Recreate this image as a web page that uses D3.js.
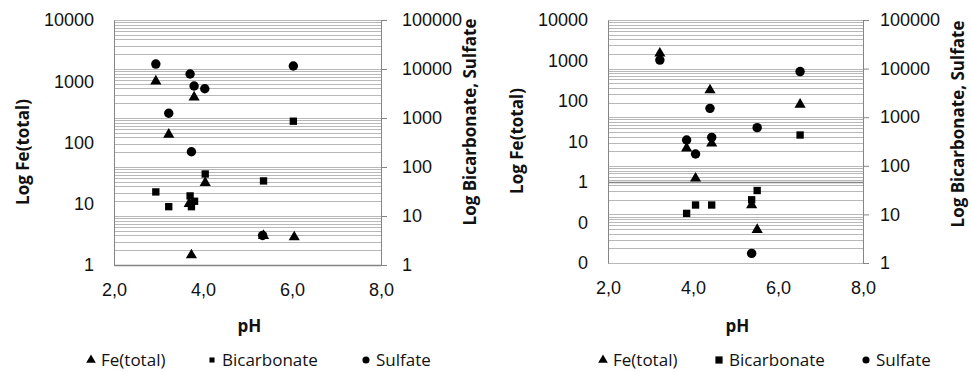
<!DOCTYPE html>
<html>
<head>
<meta charset="utf-8">
<script src="https://cdn.jsdelivr.net/npm/d3@7/dist/d3.min.js"></script>
<style>
  html, body { margin: 0; padding: 0; background: #fff; }
  svg { display: block; font-family: "Open Sans", "Liberation Sans", sans-serif; }
</style>
</head>
<body>
<svg id="chart" width="971" height="372"></svg>
<script>
// ---- Data: panel A ----
const feA_pH   = [2.94, 3.80, 3.23, 4.05, 3.69, 5.36, 6.05, 3.74];
const feA_val  = [1000, 550, 135, 22, 10, 3.0, 2.85, 1.45];
const bicA_pH  = [2.94, 3.23, 3.71, 3.81, 3.74, 4.05, 5.36, 6.03];
const bicA_val = [31, 15.5, 25.7, 20, 15.5, 72, 52, 860];
const sulA_pH  = [2.94, 3.71, 3.80, 4.04, 3.23, 3.74, 6.03, 5.34];
const sulA_val = [12600, 7900, 4500, 3950, 1250, 205, 11500, 4];

// ---- Data: panel B ----
const feB_pH   = [3.22, 4.40, 3.85, 4.44, 4.06, 6.52, 5.38, 5.51];
const feB_val  = [1500, 186, 6.8, 9, 1.23, 82, 0.27, 0.066];
const bicB_pH  = [3.85, 4.06, 4.44, 6.52, 5.51, 5.38];
const bicB_val = [10.5, 15.6, 15.6, 430, 31, 20];
const sulB_pH  = [3.22, 4.40, 3.85, 4.44, 4.06, 6.52, 5.51, 5.38];
const sulB_val = [15000, 1520, 340, 385, 175, 8700, 610, 1.58];

// ---- Axis ticks ----
const xTicks       = [2, 4, 6, 8];
const xTickLabels  = ["2,0", "4,0", "6,0", "8,0"];
const leftTicksA   = [1, 10, 100, 1000, 10000];
const leftLabelsA  = ["1", "10", "100", "1000", "10000"];
const leftTicksB   = [0.01, 0.1, 1, 10, 100, 1000, 10000];
const leftLabelsB  = ["0", "0", "1", "10", "100", "1000", "10000"];
const rightTicks   = [1, 10, 100, 1000, 10000, 100000];
const rightLabels  = ["1", "10", "100", "1000", "10000", "100000"];

const seriesNames = ["Fe(total)", "Bicarbonate", "Sulfate"];
const xTitle = "pH";
const leftTitle = "Log Fe(total)";
const rightTitle = "Log Bicarbonate, Sulfate";

const svg = d3.select("#chart");
const gridColor = "#b8b8b8";
const axisColor = "#858585";
const textColor = "#111";

const symbols = [d3.symbolTriangle, d3.symbolSquare, d3.symbolCircle];
const symSizes = [54, 54, 70];

function zip(xs, ys) { return xs.map((x, i) => ({ x, y: ys[i] })); }

function drawPanel(cfg) {
  const { x0, x1, top, bottom } = cfg;
  const x = d3.scaleLinear().domain([2, 8]).range([x0, x1]);
  const yL = d3.scaleLog().domain(cfg.leftDomain).range([bottom, top]);
  const yR = d3.scaleLog().domain([1, 100000]).range([bottom, top]);
  const g = svg.append("g");

  // horizontal gridlines at every minor step of the secondary axis
  const gridVals = [];
  for (let e = 0; e < 5; e++) for (let m = 1; m <= 9; m++) gridVals.push(m * Math.pow(10, e));
  gridVals.push(100000);
  g.append("g").selectAll("line").data(gridVals).join("line")
    .attr("x1", x0).attr("x2", x1)
    .attr("y1", d => Math.round(yR(d)) + 0.5).attr("y2", d => Math.round(yR(d)) + 0.5)
    .attr("stroke", gridColor).attr("stroke-width", 1);

  // primary (left) axis
  const axL = d3.axisLeft(yL).tickValues(cfg.leftTicks).tickSize(0).tickPadding(20)
    .tickFormat((d, i) => cfg.leftLabels[i]);
  const gL = g.append("g").attr("transform", `translate(${x0},0)`).call(axL);
  gL.select(".domain").attr("stroke", axisColor);
  gL.selectAll("text").attr("font-size", 18).attr("fill", textColor);

  // secondary (right) axis
  const axR = d3.axisRight(yR).tickValues(rightTicks).tickSize(6).tickPadding(cfg.rightPad)
    .tickFormat((d, i) => rightLabels[i]);
  const gR = g.append("g").attr("transform", `translate(${x1},0)`).call(axR);
  gR.select(".domain").attr("stroke", axisColor);
  gR.selectAll(".tick line").attr("stroke", axisColor);
  gR.selectAll("text").attr("font-size", 18).attr("fill", textColor);

  // horizontal axis line crosses the primary axis at 1
  g.append("line").attr("x1", x0).attr("x2", x1)
    .attr("y1", Math.round(yL(1)) + 0.5).attr("y2", Math.round(yL(1)) + 0.5)
    .attr("stroke", axisColor).attr("stroke-width", 1.3);

  // x tick labels sit below the plot
  const axX = d3.axisBottom(x).tickValues(xTicks).tickSize(0).tickPadding(18)
    .tickFormat((d, i) => xTickLabels[i]);
  const gX = g.append("g").attr("transform", `translate(0,${bottom})`).call(axX);
  gX.select(".domain").remove();
  gX.selectAll("text").attr("font-size", 18).attr("fill", textColor);

  // titles
  g.append("text").attr("x", (x0 + x1) / 2 + 2).attr("y", 332)
    .attr("text-anchor", "middle").attr("font-weight", "bold").attr("font-size", 17)
    .attr("fill", textColor).text(xTitle);
  g.append("text").attr("transform", `translate(${cfg.leftTitleX},${cfg.leftTitleY}) rotate(-90)`)
    .attr("text-anchor", "middle").attr("font-weight", "bold").attr("font-size", 17)
    .attr("fill", textColor).text(leftTitle);
  g.append("text").attr("transform", `translate(${cfg.rightTitleX},${cfg.rightTitleY}) rotate(-90)`)
    .attr("text-anchor", "middle").attr("font-weight", "bold").attr("font-size", 17)
    .attr("fill", textColor).text(rightTitle);

  // markers
  const sets = [
    { data: zip(cfg.fe[0], cfg.fe[1]), y: yL, s: 0 },
    { data: zip(cfg.bic[0], cfg.bic[1]), y: yR, s: 1 },
    { data: zip(cfg.sul[0], cfg.sul[1]), y: yR, s: 2 }
  ];
  sets.forEach(set => {
    g.append("g").selectAll("path").data(set.data).join("path")
      .attr("transform", d => `translate(${x(d.x)},${set.y(d.y)})`)
      .attr("d", d3.symbol(symbols[set.s], symSizes[set.s]))
      .attr("fill", "#000");
  });

  // legend
  const lg = g.append("g").attr("transform", "translate(0,360)");
  seriesNames.forEach((name, i) => {
    const lx = cfg.legendX[i];
    lg.append("path").attr("transform", `translate(${lx},0)`)
      .attr("d", d3.symbol(symbols[i], cfg.legendSizes[i])).attr("fill", "#000");
    lg.append("text").attr("x", lx + 10).attr("y", 0).attr("dy", "0.35em")
      .attr("font-size", 17).attr("fill", textColor).text(name);
  });
}

drawPanel({
  x0: 114, x1: 381, top: 20, bottom: 265,
  leftDomain: [1, 10000], leftTicks: leftTicksA, leftLabels: leftLabelsA,
  rightPad: 15,
  leftTitleX: 29, leftTitleY: 152, rightTitleX: 476, rightTitleY: 122,
  fe: [feA_pH, feA_val], bic: [bicA_pH, bicA_val], sul: [sulA_pH, sulA_val],
  legendX: [91, 212, 366], legendSizes: [40, 26, 40]
});

drawPanel({
  x0: 608, x1: 863, top: 20, bottom: 263,
  leftDomain: [0.01, 10000], leftTicks: leftTicksB, leftLabels: leftLabelsB,
  rightPad: 11,
  leftTitleX: 523, leftTitleY: 141, rightTitleX: 964, rightTitleY: 124,
  fe: [feB_pH, feB_val], bic: [bicB_pH, bicB_val], sul: [sulB_pH, sulB_val],
  legendX: [603, 719, 866], legendSizes: [40, 52, 40]
});
</script>
</body>
</html>
